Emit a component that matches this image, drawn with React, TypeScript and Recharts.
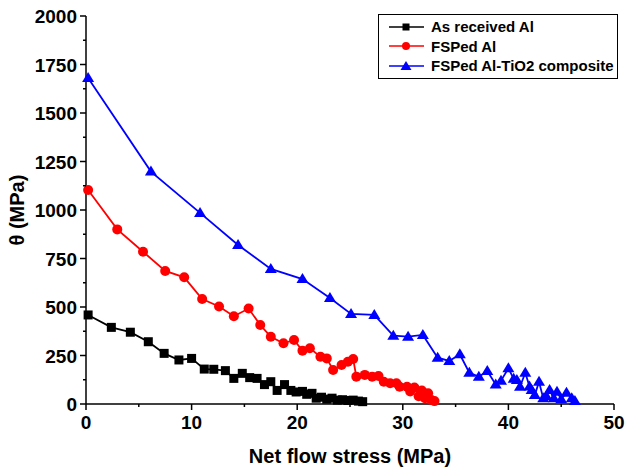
import { LineChart, Line, XAxis, YAxis, Legend } from 'recharts';

// Courbes θ vs contrainte d'écoulement nette
const asReceivedAl: [number, number][] = [
  [0.2, 459], [2.4, 395], [4.2, 370], [5.9, 321], [7.4, 261], [8.8, 227], [10.0, 235],
  [11.2, 180], [12.1, 179], [13.2, 172], [14.0, 132], [14.8, 158], [15.5, 136], [16.2, 132],
  [16.9, 100], [17.5, 115], [18.1, 70], [18.8, 100], [19.4, 70], [19.9, 62], [20.5, 65],
  [20.9, 50], [21.4, 55], [21.8, 30], [22.3, 35], [22.8, 25], [23.3, 30], [23.8, 20],
  [24.3, 22], [24.8, 18], [25.3, 20], [25.8, 15], [26.2, 12],
];

const fspedAl: [number, number][] = [
  [0.2, 1103], [2.96, 900], [5.4, 785], [7.5, 686], [9.3, 653], [11.0, 541], [12.6, 503],
  [14.0, 452], [15.4, 492], [16.5, 407], [17.5, 347], [18.7, 313], [19.7, 330], [20.5, 275],
  [21.2, 287], [22.2, 244], [22.8, 235], [23.4, 175], [24.2, 201], [24.8, 218], [25.3, 232],
  [25.6, 141], [26.4, 150], [27.1, 141], [27.7, 144], [28.2, 115], [28.8, 107], [29.4, 107],
  [29.7, 89], [30.4, 89], [30.7, 65], [31.1, 85], [31.5, 40], [31.8, 70], [32.1, 30],
  [32.4, 55], [32.7, 20], [33.0, 15],
];

const fspedAlTiO2: [number, number][] = [
  [0.2, 1680], [6.15, 1198], [10.8, 985], [14.4, 820], [17.5, 696], [20.5, 644], [23.1, 546],
  [25.1, 464], [27.3, 459], [29.1, 352], [30.5, 347], [31.9, 356], [33.3, 239], [34.4, 222],
  [35.4, 256], [36.3, 161], [37.2, 141], [38.0, 170], [38.8, 101], [39.3, 120], [40.0, 184],
  [40.5, 130], [40.8, 124], [41.1, 89], [41.6, 161], [42.0, 90], [42.2, 72], [42.5, 46],
  [42.9, 115], [43.3, 29], [43.6, 40], [43.9, 72], [44.3, 30], [44.6, 63], [45.0, 25],
  [45.5, 58], [46.0, 30], [46.3, 15],
];

const xTicks = [0, 5, 10, 15, 20, 25, 30, 35, 40, 45, 50];
const yTicks = [0, 125, 250, 375, 500, 625, 750, 875, 1000, 1125, 1250, 1375, 1500, 1625, 1750, 1875, 2000];

const toPoints = (rows: [number, number][]) => rows.map(([x, y]) => ({ x, y }));

const FONT = '"Liberation Sans", Arial, sans-serif';

const square = (color: string, s = 9) => (p: any) => (
  <rect key={`s${p.index}`} x={p.cx - s / 2} y={p.cy - s / 2} width={s} height={s} fill={color} />
);
const circle = (color: string, r = 5) => (p: any) => (
  <circle key={`c${p.index}`} cx={p.cx} cy={p.cy} r={r} fill={color} />
);
const triangle = (color: string, w = 12, h = 10) => (p: any) => (
  <polygon
    key={`t${p.index}`}
    points={`${p.cx},${p.cy - h * 0.6} ${p.cx - w / 2},${p.cy + h * 0.4} ${p.cx + w / 2},${p.cy + h * 0.4}`}
    fill={color}
  />
);

const YTick = ({ x, y, payload }: any) => {
  const major = payload.value % 250 === 0;
  const len = major ? 6 : 3;
  return (
    <g>
      <line x1={x} x2={x - len} y1={y} y2={y} stroke="#000" strokeWidth={1.5} />
      {major && (
        <text x={x - 9} y={y} dy={7} textAnchor="end" fontFamily={FONT} fontWeight="bold" fontSize={19} fill="#000">
          {payload.value}
        </text>
      )}
    </g>
  );
};

const XTick = ({ x, y, payload }: any) => {
  const major = payload.value % 10 === 0;
  const len = major ? 6 : 3;
  return (
    <g>
      <line x1={x} x2={x} y1={y} y2={y + len} stroke="#000" strokeWidth={1.5} />
      {major && (
        <text x={x} y={y + 25} textAnchor="middle" fontFamily={FONT} fontWeight="bold" fontSize={19} fill="#000">
          {payload.value}
        </text>
      )}
    </g>
  );
};

const legendItems = [
  { label: 'As received Al', color: '#000000', kind: 'square' },
  { label: 'FSPed Al', color: '#ff0000', kind: 'circle' },
  { label: 'FSPed Al-TiO2 composite', color: '#0000ff', kind: 'triangle' },
];

const LegendBox = () => (
  <div
    style={{
      width: 238,
      height: 61,
      border: '1px solid #000',
      background: '#fff',
      fontFamily: FONT,
      fontWeight: 'bold',
      fontSize: 15,
      paddingTop: 2,
      boxSizing: 'content-box',
    }}
  >
    {legendItems.map((it) => (
      <div key={it.label} style={{ display: 'flex', alignItems: 'center', height: 19.5 }}>
        <svg width={50} height={14} style={{ marginLeft: 7 }}>
          <line x1={3} x2={38} y1={7} y2={7} stroke={it.color} strokeWidth={1.5} />
          {it.kind === 'square' && <rect x={16.5} y={3.5} width={7} height={7} fill={it.color} />}
          {it.kind === 'circle' && <circle cx={20} cy={7} r={4} fill={it.color} />}
          {it.kind === 'triangle' && <polygon points="20,2 14.5,11 25.5,11" fill={it.color} />}
        </svg>
        <span style={{ marginLeft: -5 }}>{it.label}</span>
      </div>
    ))}
  </div>
);

const frameLine = { stroke: '#000', strokeWidth: 1.5 };

export default function App() {
  return (
    <div style={{ position: 'absolute', left: 0, top: 0, width: 630, height: 470, background: '#fff' }}>
      <LineChart width={630} height={470} margin={{ top: 16, right: 16, bottom: 0, left: 0 }}>
        <XAxis
          type="number"
          dataKey="x"
          domain={[0, 50]}
          ticks={xTicks}
          interval={0}
          height={66}
          tickSize={0}
          tickMargin={0}
          tick={<XTick />}
          axisLine={frameLine}
          label={{
            value: 'Net flow stress (MPa)',
            position: 'insideBottom',
            offset: 7,
            style: { fontFamily: FONT, fontWeight: 'bold', fontSize: 20, fill: '#000' },
          }}
        />
        <XAxis xAxisId="top" orientation="top" type="number" domain={[0, 50]} height={0} tick={false} tickLine={false} axisLine={frameLine} />
        <YAxis
          type="number"
          domain={[0, 2000]}
          ticks={yTicks}
          interval={0}
          width={86}
          tickSize={0}
          tickMargin={0}
          tick={<YTick />}
          axisLine={frameLine}
          label={{
            value: 'θ (MPa)',
            angle: -90,
            position: 'insideLeft',
            offset: 17,
            style: { fontFamily: FONT, fontWeight: 'bold', fontSize: 20, fill: '#000', textAnchor: 'middle' },
          }}
        />
        <YAxis yAxisId="right" orientation="right" type="number" domain={[0, 2000]} width={0} tick={false} tickLine={false} axisLine={frameLine} />
        <Line
          data={toPoints(asReceivedAl)}
          dataKey="y"
          name="As received Al"
          type="linear"
          stroke="#000000"
          strokeWidth={1.8}
          dot={square('#000000')}
          isAnimationActive={false}
        />
        <Line
          data={toPoints(fspedAl)}
          dataKey="y"
          name="FSPed Al"
          type="linear"
          stroke="#ff0000"
          strokeWidth={1.8}
          dot={circle('#ff0000')}
          isAnimationActive={false}
        />
        <Line
          data={toPoints(fspedAlTiO2)}
          dataKey="y"
          name="FSPed Al-TiO2 composite"
          type="linear"
          stroke="#0000ff"
          strokeWidth={1.8}
          dot={triangle('#0000ff')}
          isAnimationActive={false}
        />
        <Legend
          layout="vertical"
          align="center"
          verticalAlign="middle"
          content={<LegendBox />}
          wrapperStyle={{ position: 'absolute', top: 14, left: 378, width: 240 }}
        />
      </LineChart>
    </div>
  );
}
